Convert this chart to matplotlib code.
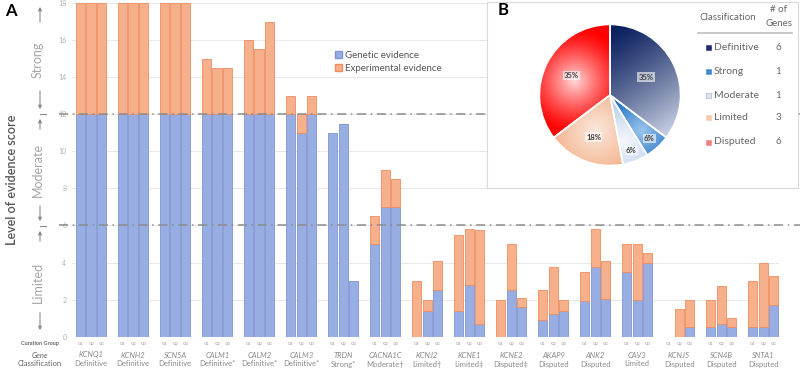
import numpy as np
import matplotlib.pyplot as plt
import matplotlib.patches as mpatches
import matplotlib.transforms as mtransforms
from matplotlib.colors import to_rgb

plt.rcParams['font.family'] = ['Lato', 'DejaVu Sans']

# ---- data (panel A) ----
genes = ["KCNQ1", "KCNH2", "SCN5A", "CALM1", "CALM2", "CALM3", "TRDN", "CACNA1C", "KCNJ2",
         "KCNE1", "KCNE2", "AKAP9", "ANK2", "CAV3", "KCNJ5", "SCN4B", "SNTA1"]
classes = ["Definitive", "Definitive", "Definitive", "Definitive*", "Definitive*", "Definitive*",
           "Strong*", "Moderate\u2020", "Limited\u2020", "Limited\u2021", "Disputed\u2021", "Disputed",
           "Disputed", "Limited", "Disputed", "Disputed", "Disputed"]
groups = ["G1", "G2", "G3"]

# genetic evidence per gene for G1, G2, G3
genetic = [
    [12, 12, 12], [12, 12, 12], [12, 12, 12], [12, 12, 12], [12, 12, 12], [12, 11, 12],
    [11, 11.5, 3], [5, 7, 7], [0, 1.4, 2.5], [1.4, 2.8, 0.7], [0, 2.5, 1.6], [0.9, 1.2, 1.4],
    [1.9, 3.75, 2.05], [3.5, 2, 4], [0, 0, 0.5], [0.5, 0.7, 0.5], [0.5, 0.5, 1.7],
]
# total score (genetic + experimental)
total = [
    [18, 18, 18], [18, 18, 18], [18, 18, 18], [15, 14.5, 14.5], [16, 15.5, 17], [13, 12, 13],
    [11, 11.5, 3], [6.5, 9, 8.5], [3, 2, 4.1], [5.5, 5.8, 5.75], [2, 5, 2.1], [2.5, 3.75, 2],
    [3.5, 5.8, 4.1], [5, 5, 4.5], [0, 1.5, 2], [2, 2.75, 1], [3, 4, 3.25],
]

# ---- data (panel B) ----
pie_labels = ["Definitive", "Strong", "Moderate", "Limited", "Disputed"]
pie_counts = [6, 1, 1, 3, 6]

W, H = 800, 369
fig = plt.figure(figsize=(8, 3.69), dpi=100)


# pixel -> figure fraction helpers
def fx(x):
    return x / W


def fy(y):
    return 1 - y / H


blue_face, blue_edge = '#98ade2', '#7d95d4'
orange_face, orange_edge = '#f7b08c', '#ef8c60'
grey_txt = '#8a8a8a'

ax = fig.add_axes([fx(72), fy(336.7), fx(779) - fx(72), fy(3) - fy(336.7)])
ax.set_xlim(-0.83, 66.5)
ax.set_ylim(0, 18)
lab_tr = mtransforms.blended_transform_factory(ax.transData, fig.transFigure)

for i in range(len(genes)):
    for j in range(3):
        x = i * 4 + j
        g = genetic[i][j]
        t = total[i][j]
        if g > 0:
            ax.bar(x, g, width=0.9, color=blue_face, edgecolor=blue_edge, linewidth=0.6, zorder=2)
        if t > g:
            ax.bar(x, t - g, bottom=g, width=0.9, color=orange_face, edgecolor=orange_edge,
                   linewidth=0.6, zorder=2)
        ax.text(x, fy(344), groups[j], ha='center', va='center', fontsize=3.2, color='#9a9a9a',
                transform=lab_tr)
    ax.text(i * 4 + 1, fy(355), genes[i], ha='center', va='center', fontsize=5.5,
            style='italic', color=grey_txt, transform=lab_tr)
    ax.text(i * 4 + 1, fy(364), classes[i], ha='center', va='center', fontsize=5.5, color=grey_txt,
            transform=lab_tr)

ax.set_yticks(np.arange(0, 19, 2))
ax.set_yticklabels([str(v) for v in range(0, 19, 2)], fontsize=5, color='#b0b0b0')
ax.tick_params(axis='y', length=0, pad=4)
ax.set_xticks([])
ax.grid(axis='y', color='#e8e8e8', linewidth=0.7, zorder=0)
ax.set_axisbelow(True)
for s in ax.spines.values():
    s.set_visible(False)

# threshold lines at 12 and 6 (extend past the axes)
for yv in [12, 6]:
    ax.plot([-2.1, 69], [yv, yv], color='#8c8c8c', linestyle=(0, (6, 3, 1, 3)),
            linewidth=1.1, clip_on=False, zorder=3)

ax.legend(handles=[mpatches.Patch(facecolor=blue_face, edgecolor=blue_edge, label='Genetic evidence'),
                   mpatches.Patch(facecolor=orange_face, edgecolor=orange_edge, label='Experimental evidence')],
          loc='upper left', bbox_to_anchor=(fx(326), fy(42)), bbox_transform=fig.transFigure,
          frameon=False, fontsize=7, handlelength=0.7, handleheight=0.7, handletextpad=0.4,
          labelspacing=0.45, labelcolor='#555555')

# left side annotations
fig.text(fx(5), fy(11), "A", fontsize=12, fontweight='bold', ha='left', va='center')
fig.text(fx(12), fy(180), "Level of evidence score", rotation=90, fontsize=9, color='#555555',
         ha='center', va='center', fontweight='semibold')
for txt, yc in [("Strong", 60), ("Moderate", 170), ("Limited", 282)]:
    fig.text(fx(38), fy(yc), txt, rotation=90, fontsize=9, color='#a5a5a5', ha='center', va='center')


def arrow(y0, y1):
    fig.add_artist(mpatches.FancyArrowPatch((fx(40), fy(y0)), (fx(40), fy(y1)),
                                            transform=fig.transFigure, arrowstyle='-|>',
                                            mutation_scale=5, color='#8c8c8c', linewidth=0.8))


arrow(25, 4)
arrow(88, 112)
arrow(132, 116)
arrow(203, 224)
arrow(244, 228)
arrow(310, 333)
for yv in [114, 226]:
    fig.add_artist(plt.Line2D([fx(40), fx(46)], [fy(yv), fy(yv)], color='#8c8c8c', linewidth=0.8))

fig.text(fx(40), fy(343), "Curation Group", fontsize=4, color='#666666', ha='center', va='center',
         fontweight='bold')
fig.text(fx(40), fy(355), "Gene", fontsize=5.5, color='#666666', ha='center', va='center', style='italic')
fig.text(fx(40), fy(364), "Classification", fontsize=5.5, color='#666666', ha='center', va='center')

# ---- panel B inset ----
box = mpatches.Rectangle((fx(487), fy(188)), fx(798) - fx(487), fy(2) - fy(188),
                         transform=fig.transFigure, facecolor='white', edgecolor='#d9d9d9',
                         linewidth=0.8, zorder=5)
fig.add_artist(box)
fig.text(fx(503), fy(10), "B", fontsize=12, fontweight='bold', ha='center', va='center', zorder=6)

pax = fig.add_axes([fx(610 - 72), fy(95 + 72), fx(144), fy(0) - fy(144)], zorder=6)
pax.set_facecolor('none')
wedges, _ = pax.pie(pie_counts, startangle=90, counterclock=False,
                    wedgeprops=dict(edgecolor='white', linewidth=1.2))
pax.set_xlim(-1.02, 1.02)
pax.set_ylim(-1.02, 1.02)
pax.set_aspect('equal')

# gradient fills clipped to each wedge
n = 300
gx, gy = np.meshgrid(np.linspace(-1, 1, n), np.linspace(1, -1, n))
grads = [
    ('#0a1f5e', '#d4dbea', np.clip((gx * 0.55 - gy * 0.83 + 0.75) / 1.75, 0, 1) ** 1.2),
    ('#1a6cc0', '#9cc5ec', np.clip(1 - np.hypot(gx - 0.45, gy + 0.5) / 0.55, 0, 1)),
    ('#c2d3ea', '#f5f8fc', np.clip(1 - np.hypot(gx - 0.2, gy + 0.65) / 0.5, 0, 1)),
    ('#f3ad85', '#fbe8dc', np.clip(1 - np.hypot(gx + 0.2, gy + 0.5) / 0.7, 0, 1)),
    ('#ff0000', '#ffd9d9', np.clip(1 - np.hypot(gx + 0.5, gy - 0.2) / 0.75, 0, 1) ** 1.3),
]
for w, (dark, light, t) in zip(wedges, grads):
    t = t[..., None]
    img = np.array(to_rgb(dark)) * (1 - t) + np.array(to_rgb(light)) * t
    im = pax.imshow(img, extent=(-1, 1, -1, 1), zorder=1, interpolation='bilinear')
    im.set_clip_path(w)
    w.set_facecolor('none')
    w.set_zorder(2)

pct_dist = [0.57, 0.83, 0.84, 0.64, 0.61]
tot = sum(pie_counts)
for w, c, d in zip(wedges, pie_counts, pct_dist):
    ang = np.deg2rad((w.theta1 + w.theta2) / 2)
    pax.text(d * np.cos(ang), d * np.sin(ang), f"{round(100 * c / tot)}%", ha='center', va='center',
             fontsize=5.5, fontweight='bold', color='#404040', zorder=4,
             bbox=dict(boxstyle='square,pad=0.15', facecolor='white', edgecolor='none', alpha=0.6))

# table to the right of the pie
fig.text(fx(728), fy(17), "Classification", fontsize=7, color='#666666', ha='center', va='center', zorder=6)
fig.text(fx(779), fy(10), "# of", fontsize=7, color='#666666', ha='center', va='center', zorder=6)
fig.text(fx(779), fy(23), "Genes", fontsize=7, color='#666666', ha='center', va='center', zorder=6)
fig.add_artist(plt.Line2D([fx(698), fx(792)], [fy(33), fy(33)], color='#bfbfbf', linewidth=1.2, zorder=6))
marker_cols = ['#1b2f6b', '#3f86cf', '#dfe6f1', '#f6c9ab', '#f08080']
row_y = [47, 71, 95, 118, 142]
for lab, c, col, yy in zip(pie_labels, pie_counts, marker_cols, row_y):
    fig.add_artist(mpatches.Rectangle((fx(706), fy(yy + 2.5)), fx(5), fy(0) - fy(5),
                                      transform=fig.transFigure, facecolor=col,
                                      edgecolor='#9aa5b8' if lab == 'Moderate' else col,
                                      linewidth=0.4, zorder=6))
    fig.text(fx(714), fy(yy), lab, fontsize=7.5, color='#666666', ha='left', va='center', zorder=6)
    fig.text(fx(778), fy(yy), str(c), fontsize=7, color='#666666', ha='center', va='center', zorder=6)

fig.savefig('out.png', dpi=100)
